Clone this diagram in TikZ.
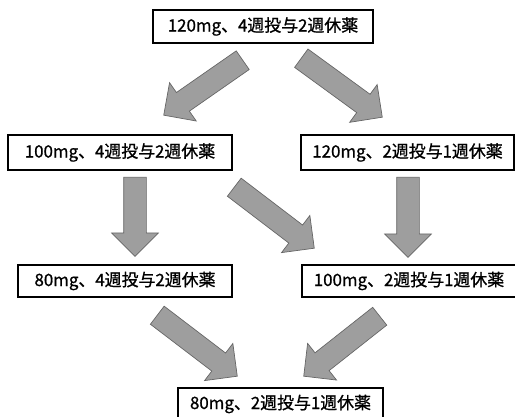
\documentclass[tikz,border=0pt]{standalone}
\usepackage{fontspec}
\setmainfont{Noto Sans CJK JP}
\newfontfamily\boxfont[FakeBold=0.9]{Noto Sans CJK JP}
\usetikzlibrary{shapes.arrows,calc}
\newcommand\blockarrow[3]{%
  \path let \p1=(#2), \p2=(#3), \n1={atan2(\y2-\y1,\x2-\x1)}, \n2={veclen(\x2-\x1,\y2-\y1)} in
    node[blk=\n2, rotate=\n1] (#1) at (#2) {};
}
\begin{document}
\begin{tikzpicture}[x=1pt,y=-1pt,
  box/.style={draw=black, line width=1.1pt, fill=white, inner sep=0pt,
    font=\boxfont\fontsize{16.9}{20}\selectfont, text=black},
  blk/.style={single arrow, draw=black!60, line width=0.7pt, fill=black!38,
    inner xsep=0pt, inner ysep=11pt, single arrow head extend=12pt,
    single arrow tip angle=90, minimum height=#1, anchor=tail}
]
\useasboundingbox (0,0) rectangle (515,417);
\clip (0,0) rectangle (515,417);

\node[box, minimum width=220pt, minimum height=33pt] (n1) at (263,26.5) {120mg、4週投与2週休薬};
\node[box, minimum width=224pt, minimum height=35pt] (n2l) at (120,152.5) {100mg、4週投与2週休薬};
\node[box, minimum width=213pt, minimum height=35pt] (n2r) at (407.5,152.5) {120mg、2週投与1週休薬};
\node[box, minimum width=214pt, minimum height=32pt] (n3l) at (125,281) {80mg、4週投与2週休薬};
\node[box, minimum width=214pt, minimum height=32pt] (n3r) at (409,281) {100mg、2週投与1週休薬};
\node[box, minimum width=205pt, minimum height=32pt] (n4) at (280.5,404) {80mg、2週投与1週休薬};

\coordinate (a1s) at (243,60);  \coordinate (a1e) at (164,115);
\coordinate (a2s) at (301,58);  \coordinate (a2e) at (382,117);
\coordinate (a3s) at (135,177); \coordinate (a3e) at (135,256);
\coordinate (a4s) at (234,187); \coordinate (a4e) at (314,248);
\coordinate (a5s) at (408,177); \coordinate (a5e) at (408,257);
\coordinate (a6s) at (157,315); \coordinate (a6e) at (237,376);
\coordinate (a7s) at (380,316); \coordinate (a7e) at (304,376);

\blockarrow{ar1}{a1s}{a1e}
\blockarrow{ar2}{a2s}{a2e}
\blockarrow{ar3}{a3s}{a3e}
\blockarrow{ar4}{a4s}{a4e}
\blockarrow{ar5}{a5s}{a5e}
\blockarrow{ar6}{a6s}{a6e}
\blockarrow{ar7}{a7s}{a7e}
\end{tikzpicture}
\end{document}
